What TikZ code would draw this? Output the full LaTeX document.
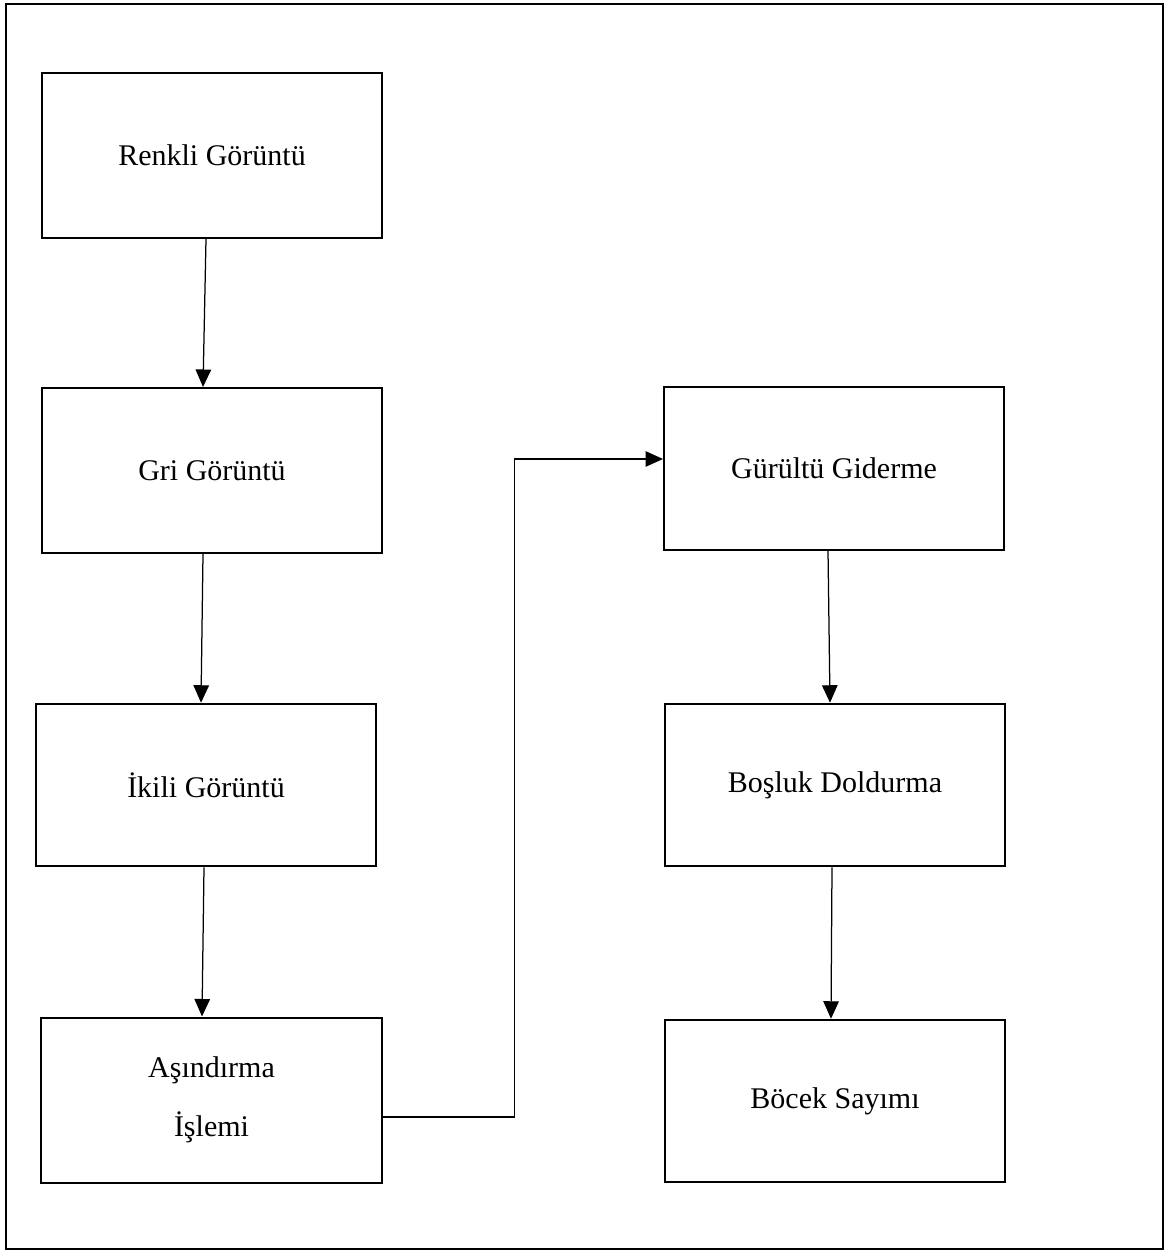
\documentclass[tikz,border=0pt]{standalone}
\usepackage{fontspec}
\setmainfont{Liberation Serif}
\usepackage{tikz}
\usetikzlibrary{arrows.meta,positioning,calc}

\begin{document}
\begin{tikzpicture}[
  x=0.4pt, y=-0.4pt,
  font=\fontsize{12}{14.4}\selectfont,
  >={Triangle[length=7pt,width=6.2pt]},
  procbox/.style={rectangle, draw, line width=0.8pt, minimum width=136pt,
                  minimum height=66pt, align=center},
  flow/.style={->, line width=0.5pt},
]
\useasboundingbox (0,0) rectangle (1169,1251);

% --- outer frame ---
\draw[line width=0.9pt] (6,4) rectangle (1163,1249);

% --- left column ---
\node[procbox] (renkli) at (212,155.5) {Renkli Görüntü};
\node[procbox] (gri)    at (212,470.5) {Gri Görüntü};
\node[procbox, minimum height=65pt] (ikili) at (206,785) {İkili Görüntü};
\node[procbox] (asin)   at (211.5,1100) {Aşındırma\\[9pt]İşlemi};

% --- right column ---
\node[procbox, minimum height=65pt] (gurultu) at (834,468.5) {Gürültü Giderme};
\node[procbox, minimum height=65pt] (bosluk)  at (835,785)   {Boşluk Doldurma};
\node[procbox, minimum height=65pt] (bocek)   at (835,1101)  {Böcek Sayımı};

% --- arrows, left column ---
\draw[flow] ($(renkli.south)+(-6,0)$) -- ($(gri.north)+(-9,0)$);
\draw[flow] ($(gri.south)+(-9,0)$)    -- ($(ikili.north)+(-5,0)$);
\draw[flow] ($(ikili.south)+(-2,0)$)  -- ($(asin.north)+(-9.5,0)$);

% --- cross-over to right column ---
\draw[flow] ($(asin.east)+(0,17)$) -- ++(132,0) |- ($(gurultu.west)+(0,-9.5)$);

% --- arrows, right column ---
\draw[flow] ($(gurultu.south)+(-6,0)$) -- ($(bosluk.north)+(-5,0)$);
\draw[flow] ($(bosluk.south)+(-3,0)$)  -- ($(bocek.north)+(-4,0)$);

\end{tikzpicture}
\end{document}
